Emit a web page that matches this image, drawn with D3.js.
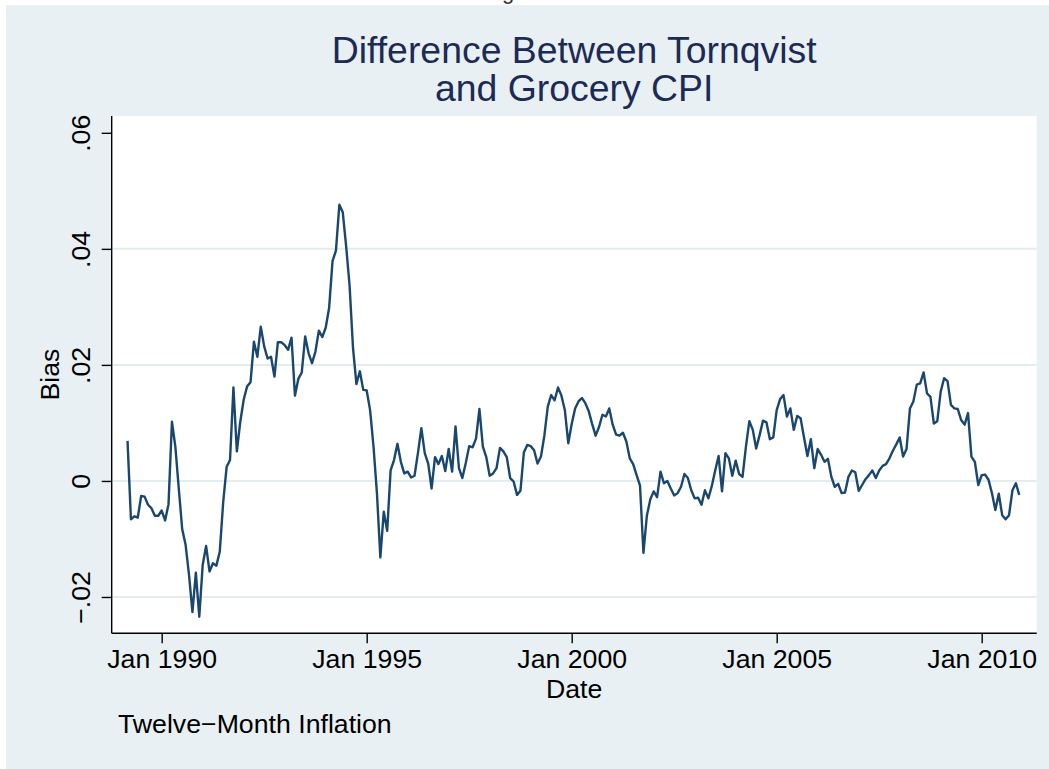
<!DOCTYPE html>
<html lang="en">

<head>
    <meta charset="utf-8">
    <!-- Load d3.js -->
    <script src="https://d3js.org/d3.v7.min.js"></script>
    <style>
        body {
            margin: 0;
            background: white;
        }

        text {
            font-family: "Liberation Sans", Arial, Helvetica, sans-serif;
        }
    </style>
</head>

<body>

    <div id="my_dataviz"></div>

    <script>
        // Twelve-month inflation bias, monthly, Mar 1989 .. Dec 2010
        const startYear = 1989;
        const startMonth = 3; // March
        const bias = [
            // 1989 (Mar-Dec)
            0.0069, -0.0066, -0.0061, -0.0063, -0.0026, -0.0027, -0.0041, -0.0047, -0.0060, -0.0060,
            // 1990
            -0.0051, -0.0068, -0.0040, 0.0102, 0.0059, -0.0013, -0.0083, -0.0110, -0.0162, -0.0226, -0.0158, -0.0234,
            // 1991
            -0.0145, -0.0112, -0.0156, -0.0142, -0.0146, -0.0122, -0.0037, 0.0024, 0.0036, 0.0161, 0.0051, 0.0102,
            // 1992
            0.0140, 0.0163, 0.0170, 0.0240, 0.0214, 0.0266, 0.0232, 0.0211, 0.0214, 0.0180, 0.0239, 0.0239,
            // 1993
            0.0234, 0.0226, 0.0247, 0.0147, 0.0176, 0.0187, 0.0249, 0.0220, 0.0203, 0.0223, 0.0259, 0.0248,
            // 1994
            0.0264, 0.0298, 0.0379, 0.0397, 0.0476, 0.0463, 0.0404, 0.0336, 0.0229, 0.0167, 0.0189, 0.0157,
            // 1995
            0.0156, 0.0122, 0.0059, -0.0021, -0.0132, -0.0053, -0.0086, 0.0018, 0.0036, 0.0064, 0.0033, 0.0013,
            // 1996
            0.0016, 0.0006, 0.0009, 0.0048, 0.0091, 0.0048, 0.0030, -0.0013, 0.0041, 0.0029, 0.0043, 0.0017,
            // 1997
            0.0055, 0.0016, 0.0094, 0.0022, 0.0005, 0.0031, 0.0060, 0.0058, 0.0073, 0.0124, 0.0059, 0.0041,
            // 1998
            0.0009, 0.0013, 0.0022, 0.0057, 0.0051, 0.0041, 0.0005, -0.0001, -0.0024, -0.0017, 0.0049, 0.0062,
            // 1999
            0.0060, 0.0053, 0.0030, 0.0042, 0.0078, 0.0128, 0.0148, 0.0139, 0.0161, 0.0147, 0.0122, 0.0065,
            // 2000
            0.0098, 0.0125, 0.0137, 0.0143, 0.0134, 0.0120, 0.0098, 0.0078, 0.0093, 0.0114, 0.0111, 0.0125,
            // 2001
            0.0097, 0.0080, 0.0078, 0.0083, 0.0068, 0.0039, 0.0029, 0.0010, -0.0008, -0.0124, -0.0060, -0.0032,
            // 2002
            -0.0018, -0.0028, 0.0016, -0.0004, 0.0000, -0.0013, -0.0025, -0.0021, -0.0010, 0.0012, 0.0005, -0.0016,
            // 2003
            -0.0030, -0.0029, -0.0041, -0.0016, -0.0030, -0.0009, 0.0018, 0.0043, -0.0018, 0.0048, 0.0039, 0.0009,
            // 2004
            0.0035, 0.0012, 0.0007, 0.0059, 0.0103, 0.0088, 0.0056, 0.0079, 0.0104, 0.0101, 0.0072, 0.0075,
            // 2005
            0.0122, 0.0141, 0.0148, 0.0111, 0.0125, 0.0088, 0.0112, 0.0108, 0.0075, 0.0043, 0.0072, 0.0022,
            // 2006
            0.0055, 0.0045, 0.0033, 0.0038, 0.0007, -0.0010, -0.0005, -0.0021, -0.0020, 0.0007, 0.0018, 0.0015,
            // 2007
            -0.0017, -0.0007, 0.0003, 0.0010, 0.0018, 0.0005, 0.0018, 0.0026, 0.0029, 0.0039, 0.0052, 0.0063,
            // 2008
            0.0075, 0.0042, 0.0055, 0.0125, 0.0137, 0.0166, 0.0168, 0.0187, 0.0151, 0.0145, 0.0099, 0.0103,
            // 2009
            0.0154, 0.0177, 0.0172, 0.0131, 0.0125, 0.0124, 0.0105, 0.0097, 0.0117, 0.0042, 0.0033, -0.0007,
            // 2010
            0.0010, 0.0011, 0.0002, -0.0021, -0.0050, -0.0022, -0.0059, -0.0066, -0.0059, -0.0016, -0.0004, -0.0024
        ];

        // axis labels
        const xTickYears = [1990, 1995, 2000, 2005, 2010];
        const yTicks = [-0.02, 0, 0.02, 0.04, 0.06];
        const yGrid = [-0.02, 0, 0.02, 0.04];
        const yTickLabels = ["\u2212.02", "0", ".02", ".04", ".06"];
        const titleLines = ["Difference Between Tornqvist", "and Grocery CPI"];

        // stata style monthly index (months since Jan 1960)
        const tm = (year, month) => (year - 1960) * 12 + (month - 1);
        const data = bias.map((v, i) => ({ t: tm(startYear, startMonth) + i, v: v }));

        const W = 1049, H = 769;
        const plot = { left: 111.7, right: 1036.7, top: 116, bottom: 633.3 };
        const fs = 26.7; // label font size

        const svg = d3.select("#my_dataviz")
            .append("svg")
            .attr("width", W)
            .attr("height", H);

        // bit of the page caption peeking in above the figure
        svg.append("text")
            .attr("x", 508)
            .attr("y", -1)
            .attr("text-anchor", "middle")
            .attr("font-family", "DejaVu Serif, serif")
            .attr("font-size", 22)
            .attr("fill", "#333")
            .text("g");

        // graph region background
        svg.append("rect")
            .attr("x", 6).attr("y", 5)
            .attr("width", W - 6).attr("height", H - 5)
            .attr("fill", "#e8f0f3");

        // plot region
        svg.append("rect")
            .attr("x", plot.left).attr("y", plot.top)
            .attr("width", plot.right - plot.left)
            .attr("height", plot.bottom - plot.top)
            .attr("fill", "white");

        // scales (range padded like stata does around the data)
        const x = d3.scaleLinear()
            .domain([tm(1990, 1) - 14.63, tm(1990, 1) + 256.1])
            .range([plot.left, plot.right]);

        const y = d3.scaleLinear()
            .domain([-0.02626, 0.0629])
            .range([plot.bottom, plot.top]);

        // gridlines
        svg.append("g")
            .selectAll("line")
            .data(yGrid)
            .join("line")
            .attr("x1", plot.left + 1)
            .attr("x2", plot.right)
            .attr("y1", d => y(d))
            .attr("y2", d => y(d))
            .attr("stroke", "#e3ecef")
            .attr("stroke-width", 2);

        // the line
        const line = d3.line()
            .x(d => x(d.t))
            .y(d => y(d.v));

        svg.append("path")
            .datum(data)
            .attr("fill", "none")
            .attr("stroke", "#1a476f")
            .attr("stroke-width", 2.4)
            .attr("stroke-linejoin", "round")
            .attr("d", line);

        // Y axis
        const yAxis = svg.append("g")
            .attr("transform", `translate(${plot.left},0)`)
            .call(d3.axisLeft(y).tickValues(yTicks).tickSize(10).tickFormat((d, i) => yTickLabels[i]));
        yAxis.select(".domain")
            .attr("d", `M0,${plot.top}V${plot.bottom}`)
            .attr("stroke-width", 1.4);
        yAxis.selectAll(".tick line").attr("stroke-width", 1.4);
        yAxis.selectAll(".tick text")
            .attr("font-size", fs)
            .attr("font-family", "Liberation Sans, Arial, sans-serif")
            .attr("fill", "black")
            .attr("text-anchor", "middle")
            .attr("dy", 0)
            .attr("x", 0)
            .attr("transform", "translate(-22,0) rotate(-90)");

        // X axis
        const xAxis = svg.append("g")
            .attr("transform", `translate(0,${plot.bottom})`)
            .call(d3.axisBottom(x)
                .tickValues(xTickYears.map(yr => tm(yr, 1)))
                .tickSize(10)
                .tickFormat(d => "Jan " + (1960 + Math.floor(d / 12))));
        xAxis.select(".domain")
            .attr("d", `M${plot.left},0H${plot.right}`)
            .attr("stroke-width", 1.4);
        xAxis.selectAll(".tick line").attr("stroke-width", 1.4);
        xAxis.selectAll(".tick text")
            .attr("font-size", fs)
            .attr("font-family", "Liberation Sans, Arial, sans-serif")
            .attr("fill", "black")
            .attr("y", 35)
            .attr("dy", 0);

        // axis titles
        svg.append("text")
            .attr("text-anchor", "middle")
            .attr("transform", `translate(59,${(plot.top + plot.bottom) / 2}) rotate(-90)`)
            .attr("font-size", fs)
            .text("Bias");

        svg.append("text")
            .attr("text-anchor", "middle")
            .attr("x", (plot.left + plot.right) / 2)
            .attr("y", 698)
            .attr("font-size", fs)
            .text("Date");

        // note
        svg.append("text")
            .attr("x", 118)
            .attr("y", 733)
            .attr("font-size", fs)
            .text("Twelve\u2212Month Inflation");

        // title
        svg.append("g")
            .selectAll("text")
            .data(titleLines)
            .join("text")
            .attr("text-anchor", "middle")
            .attr("x", (plot.left + plot.right) / 2)
            .attr("y", (d, i) => 63 + i * 38)
            .attr("font-size", 37.4)
            .attr("fill", "#1c2a56")
            .text(d => d);
    </script>

</body>

</html>
